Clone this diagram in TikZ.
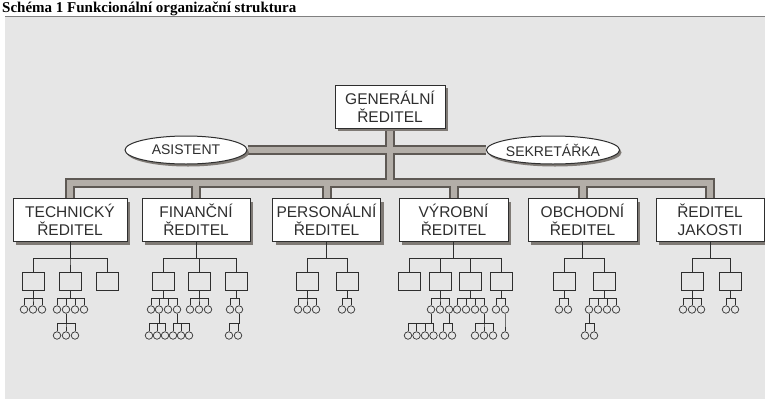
\documentclass[tikz,border=0pt]{standalone}
\usepackage{fontspec}
\setmainfont{Liberation Sans}
\newfontfamily\titlefont{Liberation Serif}
\usetikzlibrary{shapes.geometric,shadows}
\pgfdeclarelayer{paper}
\pgfdeclarelayer{pipes}
\pgfsetlayers{paper,pipes,main}
\definecolor{paperc}{HTML}{E6E6E6}
\definecolor{ink}{HTML}{2E2E2E}
\definecolor{pipedark}{HTML}{5E5954}
\definecolor{pipelight}{HTML}{B3AEA8}
\definecolor{shadowc}{HTML}{7F7A75}
\tikzset{
 dept/.style={draw=ink, fill=white, line width=1pt, minimum width=110pt, minimum height=43pt,
   inner sep=0pt, align=center, text=ink, font=\fontsize{15.5}{18}\selectfont,
   drop shadow={shadow xshift=3pt, shadow yshift=-3pt, fill=shadowc, opacity=1}},
 oval/.style={ellipse, draw=ink, fill=white, line width=1pt, minimum width=122pt, minimum height=28pt,
   inner sep=0pt, text=ink, font=\fontsize{14}{16}\selectfont,
   drop shadow={shadow xshift=2pt, shadow yshift=-2.5pt, fill=shadowc, opacity=1}},
 sb/.style={draw=ink, line width=0.7pt, minimum width=22pt, minimum height=18pt, inner sep=0pt},
 sc/.style={circle, draw=ink, line width=0.7pt, minimum size=7.5pt, inner sep=0pt},
 tl/.style={draw=ink, line width=0.7pt},
 pipeout/.style={draw=pipedark, line width=10pt},
 pipein/.style={draw=pipelight, line width=6pt},
}
\newcommand\fanout[3]{\foreach \c in {#3}{\draw[tl] (#1.south) -- ++(0,#2) -| (\c.north);}}
\begin{document}
\begin{tikzpicture}[x=1pt,y=-1pt]
\useasboundingbox (0,0) rectangle (765,399);
\begin{pgfonlayer}{paper}
\fill[white] (0,0) rectangle (765,399);
\fill[paperc] (5,16) rectangle (765,399);
\draw[gray, line width=0.8pt] (5,16) -- (765,16);
\end{pgfonlayer}
\node[anchor=base west, inner sep=0pt, font=\titlefont\bfseries\fontsize{15}{17}\selectfont] (title) at (2,12) {Schéma 1 Funkcionální organizační struktura};

% top
\node[dept] (gen) at (390,106.5) {GENERÁLNÍ\\ŘEDITEL};
\node[oval] (asi) at (186,150) {ASISTENT};
\node[oval, minimum width=120pt] (sek) at (553,150) {SEKRETÁŘKA};

% departments
\node[dept, minimum width=114pt] (tech) at (70,220) {TECHNICKÝ\\ŘEDITEL};
\node[dept, minimum width=108pt] (fin) at (196,220) {FINANČNÍ\\ŘEDITEL};
\node[dept, minimum width=108pt] (pers) at (326.5,220) {PERSONÁLNÍ\\ŘEDITEL};
\node[dept, minimum width=109pt] (vyr) at (453.5,220) {VÝROBNÍ\\ŘEDITEL};
\node[dept, minimum width=109pt] (obch) at (582.5,220) {OBCHODNÍ\\ŘEDITEL};
\node[dept, minimum width=108pt] (jak) at (710,220) {ŘEDITEL\\JAKOSTI};

% pipes
\coordinate (bus) at (0,183);
\begin{pgfonlayer}{pipes}
\foreach \s in {pipeout,pipein}{
  \draw[\s] (tech.north) -- (tech.north |- bus) -- (jak.north |- bus) -- (jak.north);
  \draw[\s] (fin.north) -- (fin.north |- bus);
  \draw[\s] (pers.north) -- (pers.north |- bus);
  \draw[\s] (vyr.north) -- (vyr.north |- bus);
  \draw[\s] (obch.north) -- (obch.north |- bus);
  \draw[\s] (gen.south) -- (gen.south |- bus);
  \draw[\s] (asi.east) -- (sek.west);
}
\end{pgfonlayer}

% small units
\foreach \n/\x in {t1/33,t2/70,t3/107,f1/163,f2/199,f3/236,p1/307,p2/347,v1/409,v2/440,v3/470,v4/501,o1/564,o2/604,j1/692,j2/730}
  \node[sb] (\n) at (\x,281) {};
\foreach \n/\x in {t1a/24,t1b/33,t1c/42,t2a/57,t2b/66,t2c/75,t2d/84,
  f1a/151,f1b/159,f1c/168,f1d/177,f2a/190,f2b/199,f2c/208,f3a/230,f3b/239,
  p1a/298,p1b/307,p1c/316,p2a/342,p2b/351,
  v2a/431,v2b/440,v2c/449,v3a/457,v3b/466,v3c/475,v3d/484,v4a/496,v4b/505,
  o1a/559,o1b/568,o2a/589,o2b/598,o2c/607,o2d/616,
  j1a/683,j1b/692,j1c/701,j2a/726,j2b/735}
  \node[sc] (\n) at (\x,309.5) {};
\foreach \n/\x in {t2ba/57,t2bb/66,t2bc/75,
  f1ba/149,f1bb/157,f1bc/165,f1da/173,f1db/181,f1dc/189,f3ba/229,f3bb/238,
  v2aa/408,v2ab/416.5,v2ac/425,v2ad/433.5,v2ca/443,v2cb/452,
  v3da/475,v3db/484,v3dc/493,v4ba/505,o2aa/585,o2ab/594}
  \node[sc] (\n) at (\x,335.5) {};

% connectors level 1
\fanout{tech}{16.5}{t1,t2,t3}
\fanout{fin}{16.5}{f1,f2,f3}
\fanout{pers}{16.5}{p1,p2}
\fanout{vyr}{16.5}{v1,v2,v3,v4}
\fanout{obch}{16.5}{o1,o2}
\fanout{jak}{16.5}{j1,j2}
% level 2
\fanout{t1}{8}{t1a,t1b,t1c}
\fanout{t2}{8}{t2a,t2b,t2c,t2d}
\fanout{f1}{8}{f1a,f1b,f1c,f1d}
\fanout{f2}{8}{f2a,f2b,f2c}
\fanout{f3}{8}{f3a,f3b}
\fanout{p1}{8}{p1a,p1b,p1c}
\fanout{p2}{8}{p2a,p2b}
\fanout{v2}{8}{v2a,v2b,v2c}
\fanout{v3}{8}{v3a,v3b,v3c,v3d}
\fanout{v4}{8}{v4a,v4b}
\fanout{o1}{8}{o1a,o1b}
\fanout{o2}{8}{o2a,o2b,o2c,o2d}
\fanout{j1}{8}{j1a,j1b,j1c}
\fanout{j2}{8}{j2a,j2b}
% level 3
\fanout{t2b}{9.75}{t2ba,t2bb,t2bc}
\fanout{f1b}{9.75}{f1ba,f1bb,f1bc}
\fanout{f1d}{9.75}{f1da,f1db,f1dc}
\fanout{f3b}{9.75}{f3ba,f3bb}
\fanout{v2a}{9.75}{v2aa,v2ab,v2ac,v2ad}
\fanout{v2c}{9.75}{v2ca,v2cb}
\fanout{v3d}{9.75}{v3da,v3db,v3dc}
\fanout{v4b}{9.75}{v4ba}
\fanout{o2a}{9.75}{o2aa,o2ab}
\end{tikzpicture}
\end{document}
